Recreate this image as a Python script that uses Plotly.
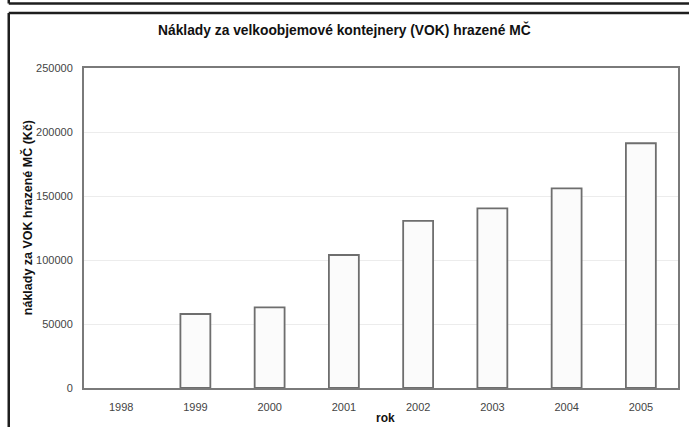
import plotly.graph_objects as go

years = ["1998", "1999", "2000", "2001", "2002", "2003", "2004", "2005"]
costs = [None, 57800, 63000, 103900, 130500, 140400, 156000, 191200]
y_ticks = [0, 50000, 100000, 150000, 200000, 250000]

W, H = 689, 427
L, R, T, B = 84, 9, 68, 39
pw, ph = W - L - R, H - T - B

def px(x):
    return (x - L) / pw

def py(y):
    return (H - B - y) / ph

fig = go.Figure()
fig.add_trace(go.Bar(
    x=years, y=costs,
    marker=dict(color="#fbfbfb", line=dict(color="#6e6e6e", width=1.8)),
    showlegend=False,
))

frame = dict(color="#1e1e1e", width=2.5)
shapes = [
    dict(type="line", xref="paper", yref="paper", x0=px(8.5), x1=px(700), y0=py(3.5), y1=py(3.5), line=frame),
    dict(type="line", xref="paper", yref="paper", x0=px(8.5), x1=px(8.5), y0=py(-2), y1=py(3.5), line=frame),
    dict(type="line", xref="paper", yref="paper", x0=px(8.5), x1=px(700), y0=py(13), y1=py(13), line=frame),
    dict(type="line", xref="paper", yref="paper", x0=px(8.5), x1=px(8.5), y0=py(13), y1=py(440), line=frame),
]

annotations = [
    dict(text="<b>Náklady za velkoobjemové kontejnery (VOK) hrazené MČ</b>",
         xref="paper", yref="paper", x=px(345), y=py(29), showarrow=False,
         xanchor="center", yanchor="middle", font=dict(size=13.8, color="#111111")),
    dict(text="<b>náklady za VOK hrazené MČ (Kč)</b>", textangle=-90,
         xref="paper", yref="paper", x=px(27), y=py(218), showarrow=False,
         xanchor="center", yanchor="middle", font=dict(size=12.5, color="#111111")),
    dict(text="<b>rok</b>",
         xref="paper", yref="paper", x=px(387), y=py(418), showarrow=False,
         xanchor="center", yanchor="middle", font=dict(size=12, color="#111111")),
]

fig.update_layout(
    width=W, height=H,
    margin=dict(l=L, r=R, t=T, b=B),
    paper_bgcolor="white", plot_bgcolor="white",
    font=dict(family="Liberation Sans, Arial, sans-serif", color="#444444", size=11),
    bargap=0.597,
    shapes=shapes,
    annotations=annotations,
    xaxis=dict(
        type="category", categoryorder="array", categoryarray=years,
        showline=True, mirror=True, linecolor="#7a7a7a", linewidth=2,
        ticks="", showgrid=False, ticklabelstandoff=8,
        tickfont=dict(size=11, color="#444444"),
    ),
    yaxis=dict(
        range=[0, 250000], tickvals=y_ticks, tickformat="d",
        showline=True, mirror=True, linecolor="#7a7a7a", linewidth=2,
        gridcolor="#ececec", gridwidth=1, zeroline=False,
        ticks="", ticklabelstandoff=7,
        tickfont=dict(size=11, color="#444444"),
    ),
)

fig.write_html("out.html", post_script="document.body.style.margin='0';",
               config={"displayModeBar": False})
